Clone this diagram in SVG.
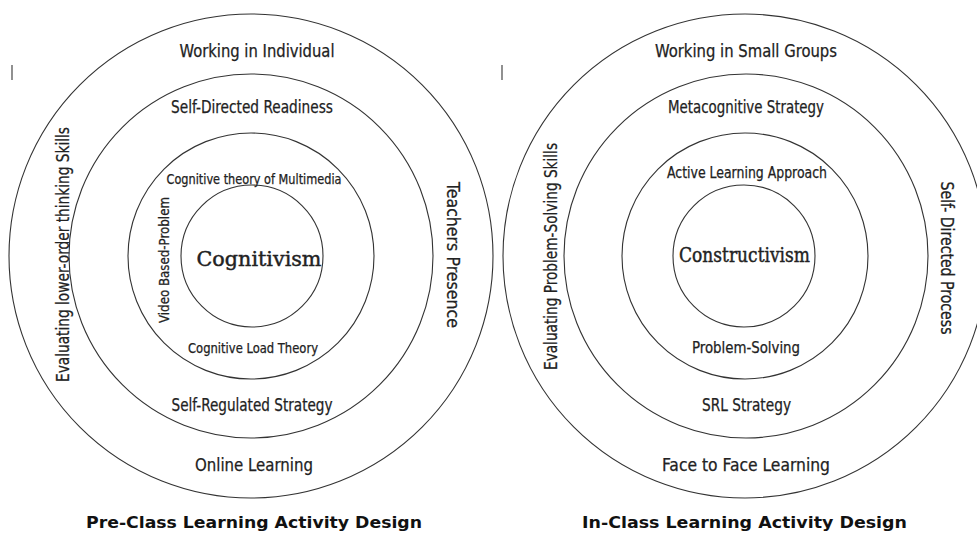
<svg xmlns="http://www.w3.org/2000/svg" width="977" height="533" viewBox="0 0 977 533">
<style>
.ring{fill:none;stroke:#333;stroke-width:1.1}
.t{font-family:"DejaVu Sans Condensed","Liberation Sans Narrow","DejaVu Sans",sans-serif;fill:#222;text-anchor:middle;stroke:#222;stroke-width:0.25}
.core{font-family:"DejaVu Serif","Liberation Serif",serif;fill:#222;text-anchor:middle;font-size:21px;stroke:#222;stroke-width:0.45}
.title{font-family:"DejaVu Sans","Verdana",sans-serif;font-weight:bold;fill:#111;text-anchor:middle;font-size:16px}
.mark{stroke:#555;stroke-width:1.3}
</style>
<rect width="977" height="533" fill="#fff"/>
<g id="connectors"></g>
<g id="pre-class">
  <circle class="ring" cx="251" cy="256" r="242"/>
  <circle class="ring" cx="251" cy="256" r="182"/>
  <circle class="ring" cx="251" cy="256" r="123"/>
  <circle class="ring" cx="252" cy="256" r="71"/>
  <line class="mark" x1="12" y1="65" x2="12" y2="80"/>
  <text class="t" x="257" y="57" font-size="18" textLength="155" lengthAdjust="spacingAndGlyphs">Working in Individual</text>
  <text class="t" x="252" y="113" font-size="18" textLength="162" lengthAdjust="spacingAndGlyphs">Self-Directed Readiness</text>
  <text class="t" x="254" y="184" font-size="14" textLength="175" lengthAdjust="spacingAndGlyphs">Cognitive theory of Multimedia</text>
  <text class="core" x="259" y="266" textLength="125" lengthAdjust="spacingAndGlyphs">Cognitivism</text>
  <text class="t" transform="translate(169,260) rotate(-90)" font-size="14" textLength="126" lengthAdjust="spacingAndGlyphs">Video Based-Problem</text>
  <text class="t" x="253" y="353" font-size="14" textLength="130" lengthAdjust="spacingAndGlyphs">Cognitive Load Theory</text>
  <text class="t" x="252" y="411" font-size="18" textLength="161" lengthAdjust="spacingAndGlyphs">Self-Regulated Strategy</text>
  <text class="t" x="254" y="471" font-size="18" textLength="118" lengthAdjust="spacingAndGlyphs">Online Learning</text>
  <text class="t" transform="translate(69,254.5) rotate(-90)" font-size="18" textLength="255" lengthAdjust="spacingAndGlyphs">Evaluating lower-order thinking Skills</text>
  <text class="t" transform="translate(447,255) rotate(90)" font-size="18" textLength="146" lengthAdjust="spacingAndGlyphs">Teachers Presence</text>
  <text class="title" x="254" y="528" textLength="336" lengthAdjust="spacingAndGlyphs">Pre-Class Learning Activity Design</text>
</g>
<g id="in-class">
  <circle class="ring" cx="745" cy="256" r="242"/>
  <circle class="ring" cx="746" cy="256" r="182"/>
  <circle class="ring" cx="745" cy="256" r="123"/>
  <circle class="ring" cx="744" cy="256" r="71"/>
  <line class="mark" x1="502" y1="65" x2="502" y2="80"/>
  <text class="t" x="746" y="57" font-size="18" textLength="182" lengthAdjust="spacingAndGlyphs">Working in Small Groups</text>
  <text class="t" x="746" y="113" font-size="18" textLength="156" lengthAdjust="spacingAndGlyphs">Metacognitive Strategy</text>
  <text class="t" x="747" y="178" font-size="15" textLength="160" lengthAdjust="spacingAndGlyphs">Active Learning Approach</text>
  <text class="core" x="744.5" y="262" textLength="131" lengthAdjust="spacingAndGlyphs">Constructivism</text>
  <text class="t" x="746" y="353" font-size="16" textLength="108" lengthAdjust="spacingAndGlyphs">Problem-Solving</text>
  <text class="t" x="746.5" y="411" font-size="18" textLength="89" lengthAdjust="spacingAndGlyphs">SRL Strategy</text>
  <text class="t" x="746" y="471" font-size="18" textLength="168" lengthAdjust="spacingAndGlyphs">Face to Face Learning</text>
  <text class="t" transform="translate(557,256.5) rotate(-90)" font-size="18" textLength="227" lengthAdjust="spacingAndGlyphs">Evaluating Problem-Solving Skills</text>
  <text class="t" transform="translate(941,258) rotate(90)" font-size="18" textLength="153" lengthAdjust="spacingAndGlyphs">Self- Directed Process</text>
  <text class="title" x="744.5" y="528" textLength="325" lengthAdjust="spacingAndGlyphs">In-Class Learning Activity Design</text>
</g>
</svg>
